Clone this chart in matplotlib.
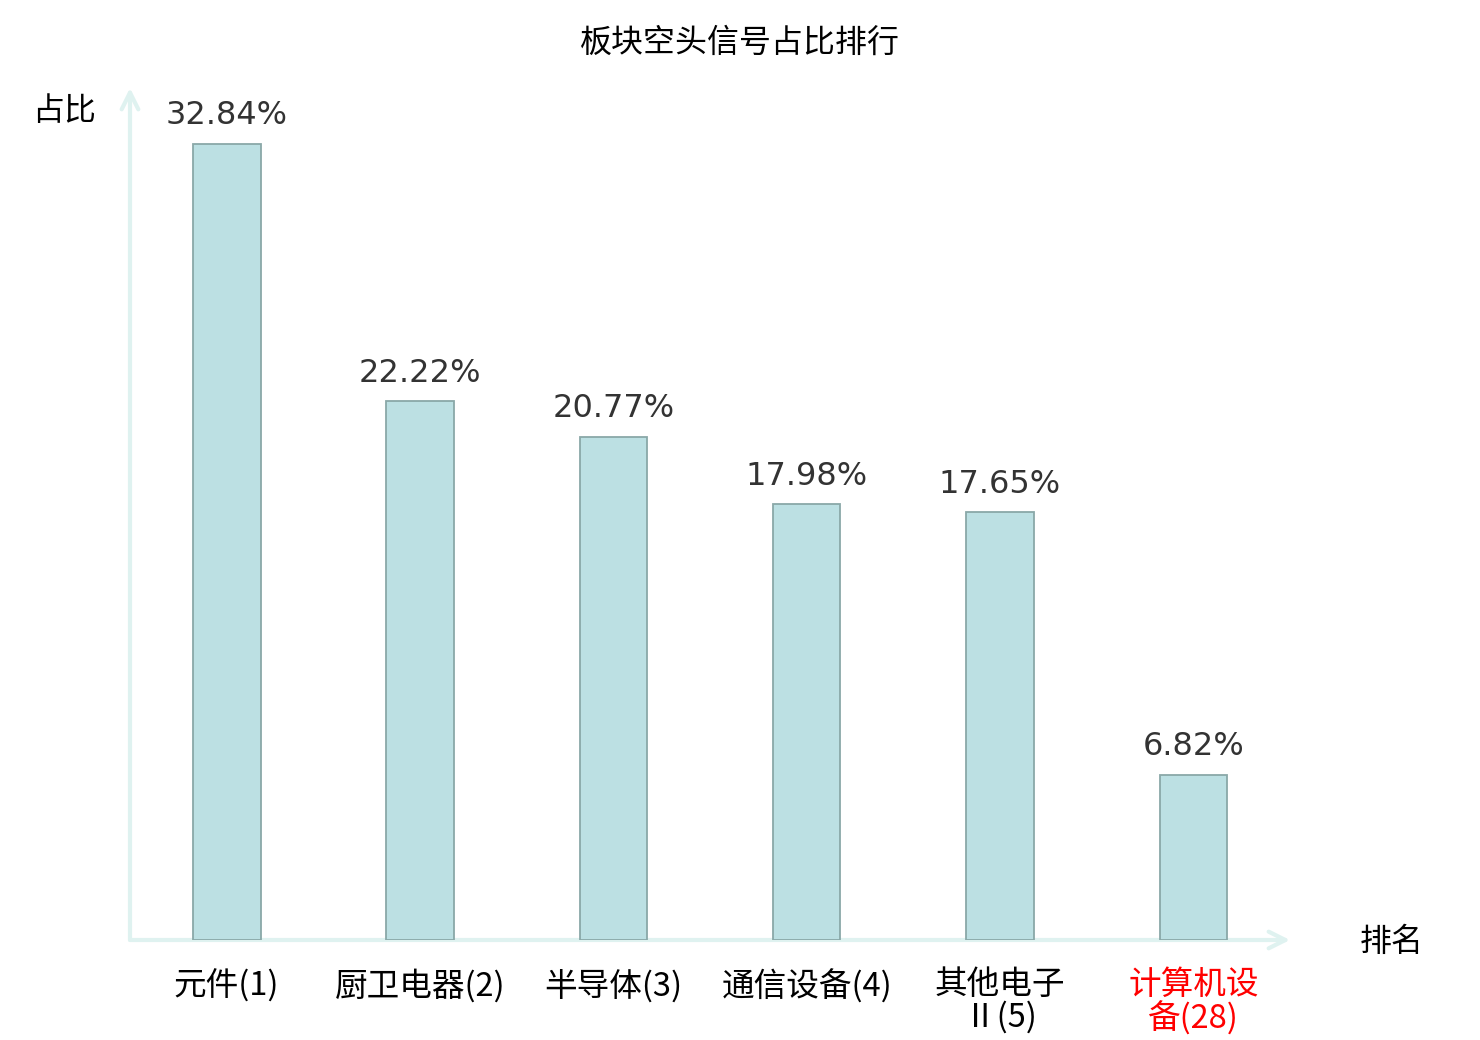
import matplotlib
matplotlib.use("Agg")
import matplotlib.pyplot as plt

categories = ["元件(1)", "厨卫电器(2)", "半导体(3)", "通信设备(4)", "其他电子\nⅡ(5)", "计算机设\n备(28)"]
values = [32.84, 22.22, 20.77, 17.98, 17.65, 6.82]
label_colors = ["#000000", "#000000", "#000000", "#000000", "#000000", "#ff0000"]
title = "板块空头信号占比排行"
y_name = "占比"
x_name = "排名"

CJK = ["Noto Sans CJK SC", "DejaVu Sans"]
plt.rcParams['font.family'] = CJK

fig = plt.figure(figsize=(14.8, 10.4), dpi=100)
ax = fig.add_axes([130/1480, 100/1040, 1160/1480, 852/1040])
x = list(range(len(categories)))
ax.bar(x, values, width=0.35, color="#bce0e3", edgecolor="#8aa8a8", linewidth=1.3, zorder=3)
ax.set_xlim(-0.5, 5.5)
ax.set_ylim(0, 35.15)

for xi, v in zip(x, values):
    ax.annotate(f"{v:.2f}%", (xi, v), xytext=(0, 9), textcoords="offset points",
                ha="center", va="bottom", fontsize=23, color="#333333",
                family=["DejaVu Sans"])

for s in ax.spines.values():
    s.set_visible(False)
ax.set_yticks([])
ax.set_xticks(x)
ax.set_xticklabels(categories, fontsize=23.5, linespacing=1.0)
for lbl, c in zip(ax.get_xticklabels(), label_colors):
    lbl.set_color(c)
ax.tick_params(axis='x', length=0, pad=21)

arrow_c = "#dff2f0"
ax.annotate("", xy=(1.0, 0), xytext=(0, 0), xycoords="axes fraction",
            arrowprops=dict(arrowstyle="->", color=arrow_c, lw=3, mutation_scale=30,
                            shrinkA=0, shrinkB=0), zorder=2)
ax.annotate("", xy=(0, 1.0), xytext=(0, 0), xycoords="axes fraction",
            arrowprops=dict(arrowstyle="->", color=arrow_c, lw=3, mutation_scale=30,
                            shrinkA=0, shrinkB=0), zorder=2)

fig.text(740/1480, 1 - 43/1040, title, ha="center", va="center", fontsize=23)
fig.text(64/1480, 1 - 111/1040, y_name, ha="center", va="center", fontsize=23)
fig.text(1392/1480, 1 - 942/1040, x_name, ha="center", va="center", fontsize=23)

fig.savefig("out.png", dpi=100)
